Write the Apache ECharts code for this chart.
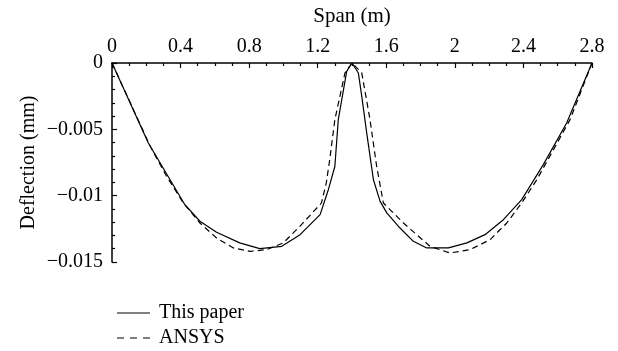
<!DOCTYPE html>
<html>
<head>
<meta charset="utf-8">
<script src="https://cdn.jsdelivr.net/npm/echarts@6/dist/echarts.min.js"></script>
<style>
  html, body { margin: 0; padding: 0; background: #fff; }
  #chart { width: 618px; height: 351px; }
</style>
</head>
<body>
<div id="chart"></div>
<script>
// span positions (m) and deflections (mm)
const paperX = [0, 0.212, 0.425, 0.513, 0.61, 0.745, 0.862, 0.99, 1.097, 1.214, 1.262, 1.30, 1.32, 1.369, 1.4,
  1.437, 1.457, 1.486, 1.525, 1.564, 1.603, 1.68, 1.758, 1.836, 1.963, 2.07, 2.176, 2.283, 2.39, 2.516, 2.652, 2.8];
const paperY = [0, -0.00603, -0.01068, -0.01193, -0.01276, -0.01356, -0.01399, -0.01382, -0.01294, -0.01143, -0.00955, -0.0078, -0.00427, -0.00063, 0,
  -0.00075, -0.00252, -0.00528, -0.0088, -0.01043, -0.0113, -0.01244, -0.01344, -0.01394, -0.01394, -0.01356, -0.01294, -0.01181, -0.0103, -0.00766, -0.00452, 0];

const ansysX = [0, 0.223, 0.319, 0.416, 0.513, 0.61, 0.708, 0.805, 0.902, 0.999, 1.096, 1.222, 1.25, 1.27, 1.30, 1.359, 1.4,
  1.457, 1.505, 1.544, 1.583, 1.70, 1.855, 1.972, 2.089, 2.205, 2.303, 2.39, 2.478, 2.575, 2.672, 2.8];
const ansysY = [0, -0.00628, -0.00855, -0.01055, -0.01206, -0.01319, -0.01394, -0.0142, -0.01407, -0.01356, -0.01231, -0.01055, -0.00904, -0.00729, -0.00427, -0.00075, 0,
  -0.00075, -0.00427, -0.0078, -0.01055, -0.01206, -0.01382, -0.01432, -0.01407, -0.01332, -0.01206, -0.01055, -0.0088, -0.00653, -0.00427, 0];

const font = 'Liberation Serif';
const pairs = (xs, ys) => xs.map((x, i) => [x, ys[i]]);

// legend icons drawn as thin bars: solid and dashed
const solidIcon = 'path://M0,0h33v1h-33z';
const dashIcon = 'path://M0,0h7v1h-7z M13,0h7v1h-7z M26,0h7v1h-7z';

const legendBase = {
  orient: 'vertical',
  left: 112,
  itemWidth: 33,
  itemHeight: 1.6,
  textStyle: { fontFamily: font, fontSize: 20, color: '#000', padding: [0, 0, 0, 4] }
};

const chart = echarts.init(document.getElementById('chart'));
chart.setOption({
  animation: false,
  textStyle: { fontFamily: font, color: '#000' },
  grid: { left: 112, right: 26, top: 63, bottom: 89, outerBoundsMode: 'none' },
  legend: [
    Object.assign({}, legendBase, { top: 298, data: [{ name: 'This paper', icon: solidIcon }] }),
    Object.assign({}, legendBase, { top: 323, data: [{ name: 'ANSYS', icon: dashIcon }] })
  ],
  xAxis: {
    type: 'value',
    position: 'top',
    min: 0, max: 2.8, interval: 0.4,
    name: 'Span (m)',
    nameLocation: 'middle',
    nameGap: 36,
    nameTextStyle: { fontFamily: font, fontSize: 21, color: '#000' },
    axisLine: { onZero: false, lineStyle: { color: '#000', width: 1.5 } },
    axisTick: { inside: true, length: 5, lineStyle: { color: '#000', width: 1.2 } },
    minorTick: { show: true, splitNumber: 4, length: 3, lineStyle: { color: '#000', width: 1.2 } },
    splitLine: { show: false },
    axisLabel: { margin: 6, fontSize: 20, color: '#000', formatter: v => String(+v.toFixed(1)) }
  },
  yAxis: {
    type: 'value',
    min: -0.015, max: 0, interval: 0.005,
    name: 'Deflection (mm)',
    nameLocation: 'middle',
    nameGap: 73,
    nameMoveOverlap: false,
    nameTextStyle: { fontFamily: font, fontSize: 20, color: '#000' },
    axisLine: { show: true, onZero: false, lineStyle: { color: '#000', width: 1.5 } },
    axisTick: { show: true, inside: true, length: 5, lineStyle: { color: '#000', width: 1.2 } },
    minorTick: { show: true, splitNumber: 5, length: 3, lineStyle: { color: '#000', width: 1.2 } },
    splitLine: { show: false },
    axisLabel: {
      margin: 9, fontSize: 20, color: '#000',
      formatter: v => v === 0 ? '0' : '\u2212' + (+Math.abs(v).toFixed(3))
    }
  },
  series: [
    {
      name: 'This paper',
      type: 'line',
      data: pairs(paperX, paperY),
      symbol: 'none',
      lineStyle: { color: '#000', width: 1.2, type: 'solid' },
      itemStyle: { color: '#000' }
    },
    {
      name: 'ANSYS',
      type: 'line',
      data: pairs(ansysX, ansysY),
      symbol: 'none',
      lineStyle: { color: '#000', width: 1.2, type: [6, 4] },
      itemStyle: { color: '#000' }
    }
  ]
});
</script>
</body>
</html>
